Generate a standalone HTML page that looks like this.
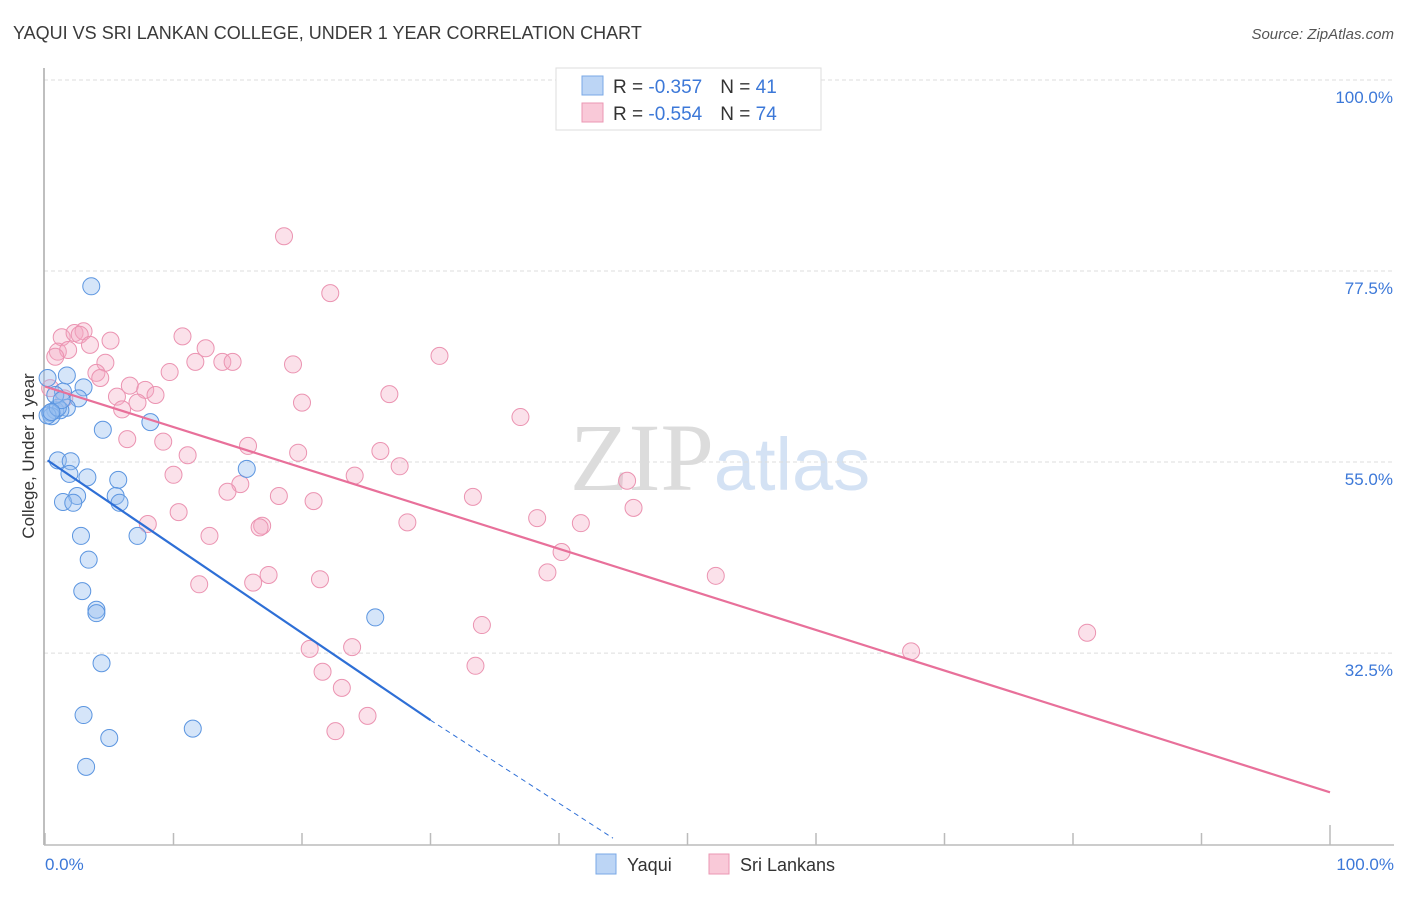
<!DOCTYPE html>
<html><head><meta charset="utf-8"><style>
body{margin:0;background:#fff;font-family:"Liberation Sans",sans-serif}
svg text{font-family:"Liberation Sans",sans-serif}
</style></head><body>
<svg id="chart" width="1406" height="892" xmlns="http://www.w3.org/2000/svg">
<text x="13" y="39" font-size="18" fill="#3a3a3a">YAQUI VS SRI LANKAN COLLEGE, UNDER 1 YEAR CORRELATION CHART</text>
<text x="1394" y="39" font-size="15" fill="#555" text-anchor="end" font-style="italic">Source: ZipAtlas.com</text>
<text x="720" y="490" font-size="96" text-anchor="middle" fill="#e4e4e4"><tspan font-family="Liberation Serif" fill="#dcdcdc">ZIP</tspan><tspan fill="#d4e2f4" font-size="74">atlas</tspan></text>
<g id="grid"></g>
<line x1="44" y1="68" x2="44" y2="845" stroke="#aaa" stroke-width="1.5"/>
<line x1="44" y1="845" x2="1394" y2="845" stroke="#bbb" stroke-width="1.5"/>
<g id="xticks"></g>
<text transform="translate(34,456) rotate(-90)" font-size="17" fill="#333" text-anchor="middle">College, Under 1 year</text>
<text x="45" y="870" font-size="17" fill="#3c78d8">0.0%</text>
<text x="1394" y="870" font-size="17" fill="#3c78d8" text-anchor="end">100.0%</text>
<g id="points"></g>
<g id="lines"></g>
<g>
<rect x="556" y="68" width="265" height="62" fill="#fff" stroke="#ddd"/>
<rect x="582" y="76" width="21" height="19" fill="#bcd5f5" stroke="#7aa8e6"/>
<rect x="582" y="103" width="21" height="19" fill="#f9c9d8" stroke="#eb97b3"/>
<text x="613" y="93" font-size="19" fill="#333">R = <tspan fill="#3c78d8"> -0.357</tspan><tspan dx="18">N = </tspan><tspan fill="#3c78d8">41</tspan></text>
<text x="613" y="120" font-size="19" fill="#333">R = <tspan fill="#3c78d8"> -0.554</tspan><tspan dx="18">N = </tspan><tspan fill="#3c78d8">74</tspan></text>
</g>
<g>
<rect x="596" y="854" width="20" height="20" fill="#bcd5f5" stroke="#7aa8e6"/>
<text x="627" y="871" font-size="18" fill="#333">Yaqui</text>
<rect x="709" y="854" width="20" height="20" fill="#f9c9d8" stroke="#eb97b3"/>
<text x="740" y="871" font-size="18" fill="#333">Sri Lankans</text>
</g>
</svg>
<script>
const yTicks=[100,77.5,55,32.5];
const yTickLabels=["100.0%","77.5%","55.0%","32.5%"];
const xTicks=[0,10,20,30,40,50,60,70,80,90,100];
const yaquiX=[3.6,1.7,3.0,1.4,2.6,1.7,0.8,0.4,1.2,0.5,8.2,4.5,1.0,2.0,3.3,1.9,5.7,2.5,5.5,1.4,2.2,5.8,2.8,7.2,3.4,2.9,4.0,4.0,25.7,4.4,3.0,5.0,11.5,3.2,15.7,0.2,0.2,1.0,0.8,1.3,0.5];
const yaquiY=[75.7,65.2,63.8,63.3,62.5,61.4,61.1,60.8,61.1,60.4,59.7,58.8,55.2,55.1,53.2,53.6,52.9,51.0,51.0,50.3,50.2,50.2,46.3,46.3,43.5,39.8,37.6,37.2,36.7,31.3,25.2,22.5,23.6,19.1,54.2,64.9,60.5,61.4,62.9,62.3,60.9];
const sriX=[18.6,22.2,1.3,2.3,3.0,2.7,3.5,5.1,1.0,1.8,0.8,10.7,12.5,4.7,4.0,4.3,11.7,13.8,14.6,19.3,9.7,30.7,6.6,7.8,8.6,5.6,7.2,6.0,20.0,26.8,37.0,6.4,9.2,15.8,26.1,11.1,19.7,27.6,10.0,24.1,15.2,14.2,18.2,20.9,33.3,45.3,10.4,8.0,16.9,16.7,28.2,38.3,41.7,45.8,12.8,40.2,39.1,17.4,12.0,16.2,21.4,52.2,34.0,81.1,67.4,20.6,23.9,33.5,21.6,23.1,25.1,22.6,0.4,1.5];
const sriY=[81.6,74.9,69.7,70.2,70.4,70.0,68.8,69.3,68.0,68.2,67.4,69.8,68.4,66.7,65.5,64.9,66.8,66.8,66.8,66.5,65.6,67.5,64.0,63.5,62.9,62.7,62.0,61.2,62.0,63.0,60.3,57.7,57.4,56.9,56.3,55.8,56.1,54.5,53.5,53.4,52.4,51.5,51.0,50.4,50.9,52.8,49.1,47.7,47.5,47.3,47.9,48.4,47.8,49.6,46.3,44.4,42.0,41.7,40.6,40.8,41.2,41.6,35.8,34.9,32.7,33.0,33.2,31.0,30.3,28.4,25.1,23.3,63.7,62.5];
const yaquiTrend=[[0.2,55.2],[30,24.6]];
const yaquiTrendExt=[[30,24.6],[44.2,10.7]];
const sriTrend=[[0,63.9],[100,16.1]];
const NS='http://www.w3.org/2000/svg';
function xs(v){return 45+v*12.85;}
function ys(v){return 80+(100-v)*8.49;}
function mk(tag,attrs,parent){const e=document.createElementNS(NS,tag);for(const k in attrs)e.setAttribute(k,attrs[k]);parent.appendChild(e);return e;}
const grid=document.getElementById('grid');
yTicks.forEach((t,i)=>{
 const l=mk('line',{x1:44,x2:1394,y1:ys(t),y2:ys(t),stroke:'#ddd','stroke-dasharray':'4,3'},grid);
 
 
 const tx=mk('text',{x:1393,y:ys(t)+23,'font-size':17,fill:'#3c78d8','text-anchor':'end'},grid);
 tx.textContent=yTickLabels[i];
 
 
});
const xt=document.getElementById('xticks');
xTicks.forEach(t=>{
 const l=mk('line',{x1:xs(t),x2:xs(t),y1:t===100?825:833,y2:845,stroke:'#bbb','stroke-width':1.5},xt);
 
 
});
const pts=document.getElementById('points');
sriX.forEach((x,i)=>{
 const c=mk('circle',{cx:xs(x),cy:ys(sriY[i]),r:8.5,fill:'rgba(244,170,195,0.35)',stroke:'#eb93b1','stroke-width':1},pts);
 
 
});
yaquiX.forEach((x,i)=>{
 const c=mk('circle',{cx:xs(x),cy:ys(yaquiY[i]),r:8.5,fill:'rgba(150,190,240,0.4)',stroke:'#5b95e0','stroke-width':1},pts);
 
 
});
const ln=document.getElementById('lines');
let a=mk('line',{x1:xs(sriTrend[0][0]),y1:ys(sriTrend[0][1]),x2:xs(sriTrend[1][0]),y2:ys(sriTrend[1][1]),stroke:'#e8709a','stroke-width':2.2},ln);


let b=mk('line',{x1:xs(yaquiTrend[0][0]),y1:ys(yaquiTrend[0][1]),x2:xs(yaquiTrend[1][0]),y2:ys(yaquiTrend[1][1]),stroke:'#2e6fd6','stroke-width':2.2},ln);


let c2=mk('line',{x1:xs(yaquiTrendExt[0][0]),y1:ys(yaquiTrendExt[0][1]),x2:xs(yaquiTrendExt[1][0]),y2:ys(yaquiTrendExt[1][1]),stroke:'#2e6fd6','stroke-width':1,'stroke-dasharray':'5,4'},ln);


</script>
</body></html>
